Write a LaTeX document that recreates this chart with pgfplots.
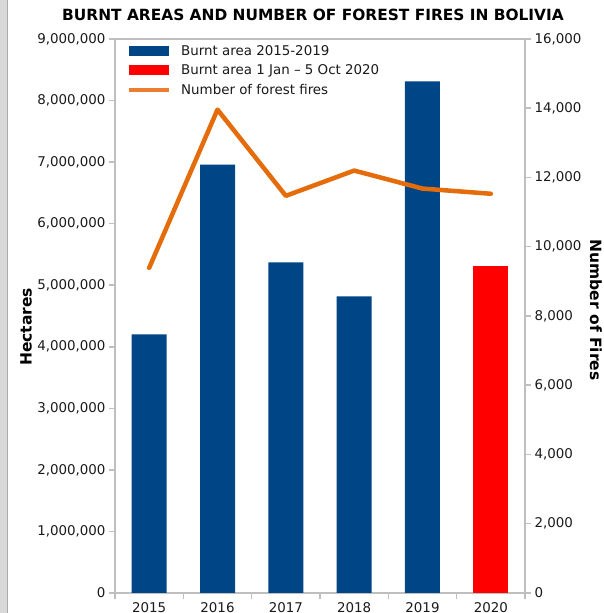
\documentclass[border=0pt]{standalone}
\usepackage{fontspec}
\setmainfont{DejaVu Sans}
\usepackage{pgfplots}
\pgfplotsset{compat=1.18}
\definecolor{barblue}{HTML}{004586}
\definecolor{barred}{HTML}{FF0000}
\definecolor{fireline}{HTML}{E46C0A}
\definecolor{fireleg}{HTML}{ED7D31}
\definecolor{framegray}{HTML}{BFBFBF}
\definecolor{labelgray}{HTML}{1A1A1A}
\newcommand{\chartfont}{\fontsize{13.4bp}{16bp}\selectfont}
\pgfplotsset{
  numfmt/.style={
    /pgf/number format/fixed,
    /pgf/number format/1000 sep={,},
    /pgf/number format/assume math mode=true,
  },
}
\begin{document}
\begin{tikzpicture}
\useasboundingbox (0,0) rectangle (604bp,613bp);
\fill[white] (0,0) rectangle (604bp,613bp);
\fill[gray!30] (0,0) rectangle (7bp,613bp);
\draw[gray!65, line width=1bp] (7.5bp,0) -- (7.5bp,613bp);
\node[font=\bfseries\fontsize{15.4bp}{18bp}\selectfont, text=black] at (313bp,598bp)
  {BURNT AREAS AND NUMBER OF FOREST FIRES IN BOLIVIA};
\node[font=\bfseries\fontsize{15.5bp}{18bp}\selectfont, text=black, rotate=90] at (26bp,286bp) {Hectares};
\node[font=\bfseries\fontsize{15.5bp}{18bp}\selectfont, text=black, rotate=-90] at (596bp,303bp) {Number of Fires};

% left axis: burnt area (bars)
\begin{axis}[
    at={(115bp,20bp)}, anchor=south west,
    scale only axis, width=410bp, height=554bp,
    xmin=-0.5, xmax=5.5,
    ymin=0, ymax=9000000,
    axis line style={framegray, line width=1.5bp},
    xtick={0,1,2,3,4,5},
    xticklabels={2015,2016,2017,2018,2019,2020},
    minor xtick={-0.5,0.5,1.5,2.5,3.5,4.5,5.5},
    major x tick style={draw=none},
    minor x tick style={framegray, line width=1.5bp},
    minor tick length=6bp,
    major tick length=6bp,
    xtick pos=bottom, ytick pos=left,
    tick align=outside,
    ytick={0,1000000,2000000,3000000,4000000,5000000,6000000,7000000,8000000,9000000},
    y tick style={framegray, line width=1.5bp},
    scaled y ticks=false,
    numfmt,
    ticklabel style={font=\chartfont, text=labelgray},
    legend style={at={(0,1)}, anchor=north west, xshift=12bp, yshift=-3bp,
      draw=none, fill=none, font=\chartfont, text=labelgray,
      row sep=2bp, inner sep=0pt,
      nodes={inner ysep=3bp, inner xsep=4bp},
      /tikz/every odd column/.append style={column sep=6bp}},
    legend cell align=left,
]
\addplot[ybar, bar width=35bp, bar shift=0pt, fill=barblue, draw=none,
  legend image code/.code={\fill[barblue] (0bp,-5bp) rectangle (40bp,5bp);}]
  coordinates {(0,4200000) (1,6960000) (2,5370000) (3,4820000) (4,8310000)};
\addlegendentry{Burnt area 2015-2019}
\addplot[ybar, bar width=35bp, bar shift=0pt, fill=barred, draw=none,
  legend image code/.code={\fill[barred] (0bp,-5bp) rectangle (40bp,5bp);}]
  coordinates {(5,5320000)};
\addlegendentry{Burnt area 1 Jan -- 5 Oct 2020}
\addlegendimage{legend image code/.code={\draw[fireleg, line width=4bp] (0bp,0bp) -- (40bp,0bp);}}
\addlegendentry{Number of forest fires}
\end{axis}

% right axis: number of fires (line)
\begin{axis}[
    at={(115bp,20bp)}, anchor=south west,
    scale only axis, width=410bp, height=554bp,
    xmin=-0.5, xmax=5.5,
    ymin=0, ymax=16000,
    axis x line=none,
    axis y line*=right,
    axis line style={framegray, line width=1.5bp, -},
    ytick={0,2000,4000,6000,8000,10000,12000,14000,16000},
    y tick style={framegray, line width=1.5bp},
    tick align=outside, major tick length=6bp,
    scaled y ticks=false,
    numfmt,
    ticklabel style={font=\chartfont, text=labelgray},
]
\addplot[fireline, line width=4.5bp, line cap=round, line join=round]
  coordinates {(0,9390) (1,13960) (2,11470) (3,12200) (4,11680) (5,11530)};
\end{axis}
\end{tikzpicture}
\end{document}
